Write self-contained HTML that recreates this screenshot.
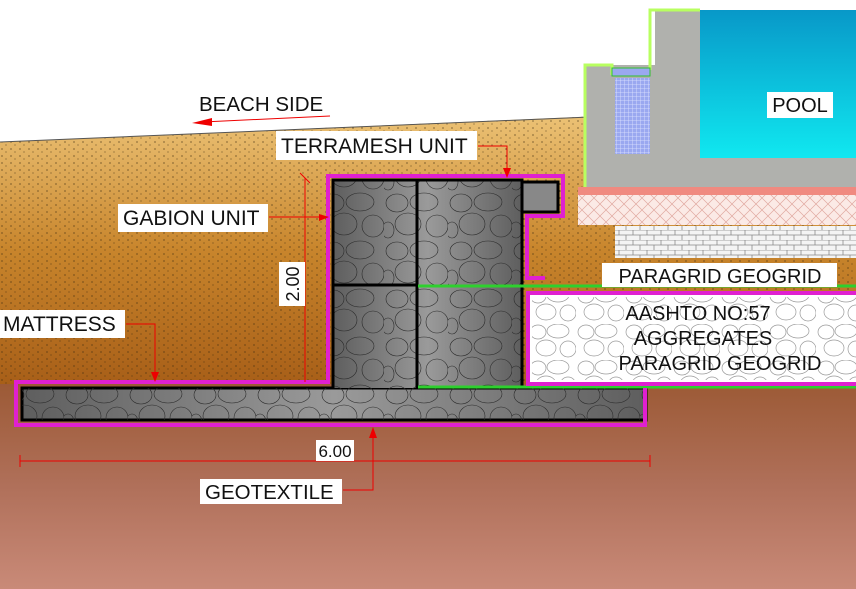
<!DOCTYPE html>
<html><head><meta charset="utf-8"><style>
html,body{margin:0;padding:0;background:#fff}
svg{display:block}
text{font-family:"Liberation Sans",sans-serif;fill:#111}
</style></head><body>
<svg width="856" height="589" viewBox="0 0 856 589" xmlns="http://www.w3.org/2000/svg">
<defs>
<linearGradient id="sand" x1="0" y1="0" x2="0" y2="1">
<stop offset="0" stop-color="#ecc275"/><stop offset="0.5" stop-color="#c8852c"/><stop offset="1" stop-color="#a85f18"/>
</linearGradient>
<linearGradient id="ground" x1="0" y1="0" x2="0" y2="1">
<stop offset="0" stop-color="#9c5a36"/><stop offset="0.5" stop-color="#b0705a"/><stop offset="1" stop-color="#c98a78"/>
</linearGradient>
<linearGradient id="water" x1="0" y1="0" x2="0" y2="1">
<stop offset="0" stop-color="#0898c8"/><stop offset="1" stop-color="#10e8f0"/>
</linearGradient>
<linearGradient id="gab" x1="0" y1="0" x2="1" y2="0">
<stop offset="0" stop-color="#5e5e5e"/><stop offset="0.5" stop-color="#9a9a9a"/><stop offset="1" stop-color="#5e5e5e"/>
</linearGradient>
<pattern id="stones" width="64" height="48" patternUnits="userSpaceOnUse">
<g fill="none" stroke="#2a2a2a" stroke-width="0.6">
<ellipse cx="13" cy="11" rx="11" ry="9"/><ellipse cx="40" cy="10" rx="14" ry="9"/><ellipse cx="24" cy="32" rx="13" ry="11"/><ellipse cx="53" cy="34" rx="11" ry="11"/><ellipse cx="4" cy="38" rx="6" ry="8"/>
</g></pattern>
<pattern id="wstones" width="48" height="36" patternUnits="userSpaceOnUse">
<g fill="none" stroke="#999" stroke-width="0.7">
<ellipse cx="10" cy="8" rx="8" ry="7"/><ellipse cx="30" cy="7" rx="11" ry="7"/><ellipse cx="18" cy="24" rx="10" ry="8"/><ellipse cx="40" cy="25" rx="8" ry="8"/>
</g></pattern>
<pattern id="hatch" width="12" height="12" patternUnits="userSpaceOnUse">
<path d="M0 0L12 12M12 0L0 12" stroke="#e0a8a0" stroke-width="0.7"/></pattern>
<pattern id="weave" width="14" height="10" patternUnits="userSpaceOnUse">
<path d="M0 0H14M0 5H14M3 0V5M10 5V10" stroke="#8a8a8a" stroke-width="0.8"/></pattern>
<pattern id="tile" width="4" height="4" patternUnits="userSpaceOnUse">
<rect width="4" height="4" fill="#9aa8f0"/><path d="M0 0H4M0 0V4" stroke="#e0e6ff" stroke-width="0.8"/></pattern>
<pattern id="dots" width="9" height="7" patternUnits="userSpaceOnUse">
<circle cx="2" cy="2" r="0.6" fill="#3a2a10"/><circle cx="6" cy="5" r="0.5" fill="#3a2a10"/></pattern>
</defs>
<rect width="856" height="589" fill="#fff"/>
<rect x="0" y="384" width="856" height="205" fill="url(#ground)"/>
<polygon points="0,142 600,116 856,116 856,384 0,384" fill="url(#sand)"/>
<polygon points="0,142 600,116 856,116 856,384 0,384" fill="url(#dots)"/>
<line x1="0" y1="142" x2="590" y2="117" stroke="#555" stroke-width="1"/>
<!-- pool structure -->
<rect x="585" y="65" width="70" height="125" fill="#b0b1ad"/>
<rect x="655" y="10" width="45" height="180" fill="#b0b1ad"/>
<rect x="585" y="156" width="271" height="34" fill="#b0b1ad"/>
<path d="M585 190V65H612V75M650 70V10H700" fill="none" stroke="#b8ff60" stroke-width="3"/>
<rect x="700" y="10" width="156" height="148" fill="url(#water)"/>
<rect x="615" y="78" width="35" height="76" fill="url(#tile)"/>
<rect x="612" y="68" width="38" height="8" fill="#9aa8f0" stroke="#30c030"/>
<rect x="578" y="187" width="278" height="8" fill="#f08a80"/>
<rect x="578" y="195" width="278" height="30" fill="#fbeae6"/>
<rect x="578" y="195" width="278" height="30" fill="url(#hatch)"/>
<rect x="615" y="226" width="241" height="32" fill="#f4f4f4"/>
<rect x="615" y="226" width="241" height="32" fill="url(#weave)"/>
<rect x="767" y="92" width="66" height="26" fill="#fff"/>
<text x="800" y="112" font-size="20" text-anchor="middle">POOL</text>
<!-- mattress -->
<rect x="22" y="388" width="624" height="32" fill="url(#gab)" stroke="#000" stroke-width="3"/>
<rect x="22" y="388" width="624" height="32" fill="url(#stones)"/>
<!-- gabions -->
<rect x="333" y="180" width="189" height="208" fill="url(#gab)"/>
<rect x="333" y="180" width="189" height="208" fill="url(#stones)"/>
<rect x="522" y="182" width="36" height="30" fill="#888" stroke="#000" stroke-width="3"/>
<path d="M333 388V180H522V388M417 180V388M333 285H417" fill="none" stroke="#000" stroke-width="3"/>
<path d="M418 286H856M418 387H856" stroke="#2ed02e" stroke-width="3"/>
<rect x="528" y="293" width="330" height="91" fill="#fff" stroke="#e020d0" stroke-width="4"/>
<rect x="532" y="297" width="324" height="83" fill="url(#wstones)"/>
<path d="M645 388V425H16V382H328V176H563V216H527V278H545" fill="none" stroke="#e020d0" stroke-width="4"/>
<!-- labels -->
<rect x="602" y="263" width="235" height="24" fill="#fff"/>
<text x="720" y="283" font-size="20" text-anchor="middle">PARAGRID GEOGRID</text>
<g font-size="20" text-anchor="middle">
<text x="698" y="320">AASHTO NO:57</text>
<text x="703" y="345">AGGREGATES</text>
<text x="720" y="370">PARAGRID GEOGRID</text>
</g>
<text x="199" y="111" font-size="20.5">BEACH SIDE</text>
<path d="M330 116L203 122" stroke="#e00" stroke-width="1"/>
<polygon points="192,123 212,118 212,126" fill="#e00"/>
<rect x="276" y="131" width="201" height="29" fill="#fff"/>
<text x="281" y="153" font-size="21">TERRAMESH UNIT</text>
<path d="M478 146H507V176" fill="none" stroke="#e00"/><polygon points="503,168 511,168 507,178" fill="#e00"/>
<rect x="118" y="204" width="150" height="28" fill="#fff"/>
<text x="123" y="225" font-size="21">GABION UNIT</text>
<path d="M269 217H328" stroke="#e00"/><polygon points="319,214 319,221 329,217" fill="#e00"/>
<rect x="0" y="310" width="125" height="28" fill="#fff"/>
<text x="3" y="331" font-size="21">MATTRESS</text>
<path d="M126 324H155V380" fill="none" stroke="#e00"/><polygon points="151,372 159,372 155,382" fill="#e00"/>
<path d="M305 178V382" stroke="#e00"/><path d="M300 173L310 183" stroke="#e00"/>
<rect x="279" y="262" width="26" height="44" fill="#fff"/>
<text x="0" y="0" font-size="18" text-anchor="middle" transform="translate(299,284) rotate(-90)">2.00</text>
<path d="M20 461H650M20 455V467M650 455V467" stroke="#e00"/>
<rect x="316" y="440" width="38" height="21" fill="#fff"/>
<text x="335" y="457" font-size="17" text-anchor="middle">6.00</text>
<path d="M373 430V490H343" fill="none" stroke="#e00"/><polygon points="369,438 377,438 373,427" fill="#e00"/>
<rect x="200" y="479" width="142" height="25" fill="#fff"/>
<text x="205" y="499" font-size="20.5">GEOTEXTILE</text>
</svg>
</body></html>
